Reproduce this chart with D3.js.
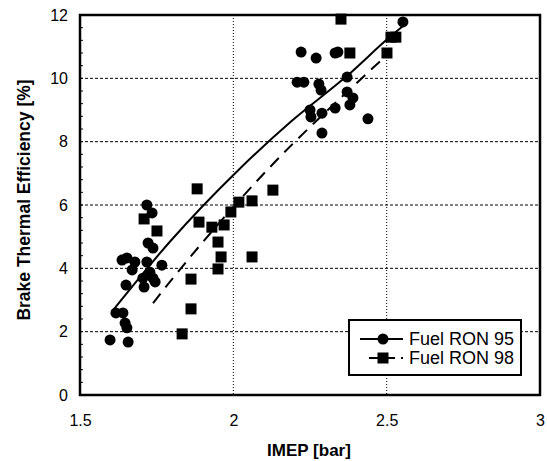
<!DOCTYPE html>
<html>
<head>
<meta charset="utf-8">
<script src="https://cdn.jsdelivr.net/npm/d3@7"></script>
<style>
  body { margin: 0; background: #fff; }
  svg { font-family: "Liberation Sans", Arial, sans-serif; }
</style>
</head>
<body>
<div id="chart"></div>
<script>
// Fuel RON 95 (circles): [IMEP bar, BTE %]
const ron95Imep = [1.598, 1.617, 1.640, 1.647, 1.653, 1.657, 1.650, 1.637, 1.653, 1.679, 1.670,
  1.718, 1.735, 1.722, 1.738, 1.718, 1.728, 1.705, 1.738, 1.709, 1.745, 1.767,
  2.208, 2.230, 2.221, 2.270, 2.332, 2.341, 2.279, 2.286, 2.250, 2.253, 2.289, 2.289,
  2.332, 2.371, 2.371, 2.390, 2.380, 2.439, 2.553];
const ron95Bte = [1.74, 2.59, 2.59, 2.27, 2.12, 1.67, 3.47, 4.26, 4.33, 4.20, 3.95,
  6.00, 5.75, 4.80, 4.64, 4.20, 3.88, 3.69, 3.69, 3.41, 3.57, 4.10,
  9.88, 9.88, 10.83, 10.64, 10.80, 10.83, 9.82, 9.63, 9.00, 8.78, 8.90, 8.27,
  9.06, 10.04, 9.57, 9.38, 9.16, 8.72, 11.78];

// Fuel RON 98 (squares)
const ron98Imep = [1.709, 1.751, 1.882, 1.888, 1.930, 1.970, 1.992, 2.018, 2.061, 2.129,
  1.950, 1.960, 2.061, 1.950, 1.862, 1.862, 1.833, 2.351, 2.380, 2.501, 2.514, 2.530];
const ron98Bte = [5.56, 5.18, 6.51, 5.46, 5.30, 5.37, 5.78, 6.09, 6.13, 6.47,
  4.83, 4.36, 4.36, 3.98, 3.66, 2.72, 1.93, 11.87, 10.80, 10.80, 11.30, 11.30];

// trend curves
const fit95Imep = [1.608, 1.793, 2.016, 2.190, 2.370, 2.511, 2.553];
const fit95Bte = [2.68, 4.84, 7.10, 8.65, 10.07, 11.31, 11.65];
const fit98Imep = [1.738, 1.793, 2.110, 2.413, 2.501];
const fit98Bte = [2.90, 3.57, 7.10, 9.95, 10.74];

const xTicks = [1.5, 2, 2.5, 3];
const yTicks = [0, 2, 4, 6, 8, 10, 12];
const seriesNames = ["Fuel RON 95", "Fuel RON 98"];

const W = 547, H = 461;
const margin = {top: 15, right: 7, bottom: 66, left: 80};
const width = W - margin.left - margin.right;
const height = H - margin.top - margin.bottom;

const svg = d3.select("#chart").append("svg")
  .attr("width", W)
  .attr("height", H);

const g = svg.append("g")
  .attr("transform", `translate(${margin.left},${margin.top})`);

const x = d3.scaleLinear().domain([1.5, 3]).range([0, width]);
const y = d3.scaleLinear().domain([0, 12]).range([height, 0]);

// grid lines
g.append("g").selectAll("line")
  .data(yTicks.filter(d => d > 0 && d < 12))
  .enter().append("line")
  .attr("x1", 0).attr("x2", width)
  .attr("y1", d => y(d)).attr("y2", d => y(d))
  .style("stroke", "#000").style("stroke-width", 1)
  .style("stroke-dasharray", "3,2");

g.append("g").selectAll("line")
  .data(xTicks.filter(d => d > 1.5 && d < 3))
  .enter().append("line")
  .attr("x1", d => x(d)).attr("x2", d => x(d))
  .attr("y1", 0).attr("y2", height)
  .style("stroke", "#000").style("stroke-width", 1)
  .style("stroke-dasharray", "1,2");

// minor ticks inside left axis
const minor = d3.range(0, 12.01, 0.4);
g.append("g").selectAll("line")
  .data(minor)
  .enter().append("line")
  .attr("x1", 0).attr("x2", 3)
  .attr("y1", d => y(d)).attr("y2", d => y(d))
  .style("stroke", "#000").style("stroke-width", 1);

// axes tick labels
const xAxis = g.append("g")
  .attr("transform", `translate(0,${height})`)
  .call(d3.axisBottom(x).tickValues(xTicks).tickFormat(d3.format("")).tickSize(0).tickPadding(20));
xAxis.select(".domain").remove();
xAxis.selectAll("text").style("font-size", "16px").style("fill", "#000");

const yAxis = g.append("g")
  .call(d3.axisLeft(y).tickValues(yTicks).tickSize(0).tickPadding(12));
yAxis.select(".domain").remove();
yAxis.selectAll("text").style("font-size", "16px").style("fill", "#000");

// trend lines
const fit95 = fit95Imep.map((v, i) => [v, fit95Bte[i]]);
const fit98 = fit98Imep.map((v, i) => [v, fit98Bte[i]]);
const line = d3.line()
  .x(d => x(d[0]))
  .y(d => y(d[1]))
  .curve(d3.curveMonotoneX);

g.append("path")
  .datum(fit95)
  .attr("d", line)
  .style("fill", "none")
  .style("stroke", "#000")
  .style("stroke-width", 2);

g.append("path")
  .datum(fit98)
  .attr("d", line)
  .style("fill", "none")
  .style("stroke", "#000")
  .style("stroke-width", 2)
  .style("stroke-dasharray", "12,8");

// points
g.append("g").selectAll("circle")
  .data(ron95Imep.map((v, i) => [v, ron95Bte[i]]))
  .enter().append("circle")
  .attr("cx", d => x(d[0]))
  .attr("cy", d => y(d[1]))
  .attr("r", 5.5)
  .style("fill", "#000");

const sq = 11;
g.append("g").selectAll("rect")
  .data(ron98Imep.map((v, i) => [v, ron98Bte[i]]))
  .enter().append("rect")
  .attr("x", d => x(d[0]) - sq / 2)
  .attr("y", d => y(d[1]) - sq / 2)
  .attr("width", sq)
  .attr("height", sq)
  .style("fill", "#000");

// frame
g.append("rect")
  .attr("x", 0).attr("y", 0)
  .attr("width", width).attr("height", height)
  .style("fill", "none")
  .style("stroke", "#000")
  .style("stroke-width", 2.5);

// axis titles
svg.append("text")
  .attr("x", margin.left + width / 2 - 1)
  .attr("y", 456)
  .attr("text-anchor", "middle")
  .style("font-size", "17px")
  .style("font-weight", "bold")
  .text("IMEP [bar]");

svg.append("text")
  .attr("transform", `translate(30,${margin.top + height / 2 - 5}) rotate(-90)`)
  .attr("text-anchor", "middle")
  .style("font-size", "17.5px")
  .style("font-weight", "bold")
  .text("Brake Thermal Efficiency [%]");

// legend
const legend = g.append("g")
  .attr("transform", `translate(${349 - margin.left},${320 - margin.top})`);

legend.append("rect")
  .attr("width", 172).attr("height", 55)
  .style("fill", "#fff")
  .style("stroke", "#000")
  .style("stroke-width", 2);

seriesNames.forEach((name, i) => {
  const row = legend.append("g").attr("transform", `translate(0,${19 + i * 19})`);
  row.append("line")
    .attr("x1", i === 0 ? 11 : 20).attr("x2", 54)
    .attr("y1", 0).attr("y2", 0)
    .style("stroke", "#000").style("stroke-width", 2)
    .style("stroke-dasharray", i === 0 ? null : "10,6");
  if (i === 0) {
    row.append("circle").attr("cx", 34).attr("cy", 0).attr("r", 5.5).style("fill", "#000");
  } else {
    row.append("rect").attr("x", 34 - sq / 2).attr("y", -sq / 2)
      .attr("width", sq).attr("height", sq).style("fill", "#000");
  }
  row.append("text")
    .attr("x", 60).attr("y", 6)
    .style("font-size", "18px")
    .text(name);
});
</script>
</body>
</html>
